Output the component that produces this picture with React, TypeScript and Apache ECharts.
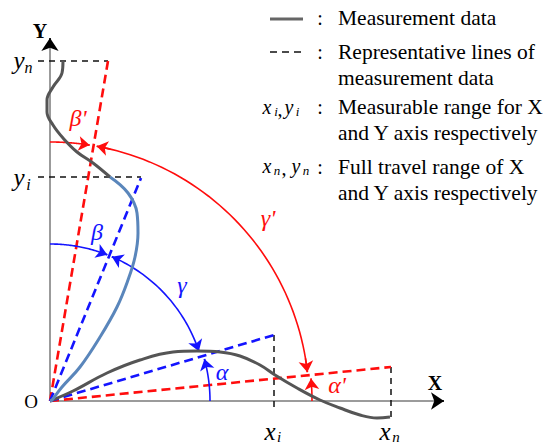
import React, { useEffect, useRef } from 'react';
import * as echarts from 'echarts';

// All coordinates are in diagram units relative to the origin O (1 unit = 1 px)
const X_RANGE = [-50, 498];
const Y_RANGE = [-45, 401];

// Measurement data along X
const xCurve: number[][] = [
  [0, 0], [23, 10], [57, 28], [90, 41], [123, 49], [147, 50], [170, 49], [190, 45],
  [210, 36], [225, 26], [247, 13], [270, 1], [290, -7], [310, -14], [327, -17], [340, -16],
];
// Measurement data along Y (upper gray part and lower blue part)
const yCurveUpper: number[][] = [
  [13, 340], [12, 328], [3, 314], [-3, 301], [-3, 289], [3, 276], [13, 263], [27, 249], [43, 238], [60, 224],
];
const yCurveLower: number[][] = [
  [60, 224], [78, 208], [87, 188], [88, 168], [85, 144], [78, 121], [67, 94], [50, 64], [30, 34], [12, 14], [2, 1], [0, 0],
];

// Representative lines
const redLines = [
  [[0, 0], [58, 340]],
  [[0, 0], [341, 34]],
];
const blueLines = [
  [[0, 0], [91, 223]],
  [[0, 0], [224, 66]],
];
// Range guide lines (x_i, x_n, y_i, y_n)
const guideLines = [
  [[-12, 340], [58, 340]],
  [[-12, 224], [91, 224]],
  [[224, 66], [224, -7]],
  [[341, 34], [341, -19]],
];
const axisXLine = [[0, 0], [394, 0]];
const axisYLine = [[0, 0], [0, 363]];

// Angle arcs: [radius, start angle deg, end angle deg]
const arcBeta = [157, 90, 68.6];
const arcGamma = [157, 66.8, 18.5];
const arcAlpha = [160, 0, 15.2];
const arcBetaP = [259, 90, 81.2];
const arcGammaP = [259, 79.6, 6.4];
const arcAlphaP = [262, 0, 4.9];

const legendRows = [
  { y: 18, lines: ['Measurement data'] },
  { y: 52, lines: ['Representative lines of', 'measurement data'] },
  { y: 107, lines: ['Measurable range for X', 'and Y axis respectively'] },
  { y: 167, lines: ['Full travel range of X', 'and Y axis respectively'] },
];

const SERIF = '"Liberation Serif", "Times New Roman", serif';
const BLUE = '#1414ff';
const RED = '#ff0d0d';
const GRAY = '#555555';
const STEEL = '#5a86bb';

function arc(a: number[]): number[][] {
  const [r, a0, a1] = a;
  const n = 48;
  const pts: number[][] = [];
  for (let i = 0; i <= n; i++) {
    const t = ((a0 + ((a1 - a0) * i) / n) * Math.PI) / 180;
    pts.push([r * Math.cos(t), r * Math.sin(t)]);
  }
  return pts;
}
// short segment at an arc end, pointing at the tip, used to carry the arrow head
function tipSeg(pts: number[][], atEnd: boolean): number[][] {
  return atEnd ? [pts[pts.length - 3], pts[pts.length - 1]] : [pts[2], pts[0]];
}

function txt(x: number, y: number, text: string, font: string, fill = '#000', align = 'center') {
  return {
    type: 'text',
    x,
    y,
    silent: true,
    style: {
      text,
      font,
      fill,
      align,
      verticalAlign: 'middle',
      textAlign: align,
      textVerticalAlign: 'middle',
    },
  };
}

export default function App() {
  const ref = useRef<HTMLDivElement>(null);
  useEffect(() => {
    if (!ref.current) return;
    const chart = echarts.init(ref.current, null, { renderer: 'svg' });

    const graphics: any[] = [];
    // legend samples
    graphics.push({
      type: 'line', silent: true,
      shape: { x1: 270, y1: 19, x2: 303, y2: 19 },
      style: { stroke: '#666', lineWidth: 3 },
    });
    graphics.push({
      type: 'line', silent: true,
      shape: { x1: 270, y1: 52, x2: 305, y2: 52 },
      style: { stroke: '#111', lineWidth: 1.6, lineDash: [7, 5] },
    });
    const it19 = `italic 20px ${SERIF}`;
    const it12 = `italic 13px ${SERIF}`;
    // x_i, y_i
    graphics.push(txt(267, 107, 'x', it19));
    graphics.push(txt(276, 111, 'i', it12));
    graphics.push(txt(280, 109, ',', `20px ${SERIF}`));
    graphics.push(txt(289, 107, 'y', it19));
    graphics.push(txt(297.5, 111, 'i', it12));
    // x_n, y_n
    graphics.push(txt(267, 166, 'x', it19));
    graphics.push(txt(277, 170, 'n', it12));
    graphics.push(txt(284, 168, ',', `20px ${SERIF}`));
    graphics.push(txt(296, 166, 'y', it19));
    graphics.push(txt(306, 170, 'n', it12));

    legendRows.forEach((row) => {
      graphics.push(txt(320, row.y, ':', `20px ${SERIF}`));
      row.lines.forEach((l, i) => {
        graphics.push(txt(338, row.y + i * 26, l, `21.5px ${SERIF}`, '#000', 'left'));
      });
    });

    // axis labels
    const it25 = `italic 25px ${SERIF}`;
    const it16 = `italic 16px ${SERIF}`;
    graphics.push(txt(19, 60, 'y', it25));
    graphics.push(txt(28.5, 67, 'n', it16));
    graphics.push(txt(19, 177, 'y', it25));
    graphics.push(txt(28.5, 184, 'i', it16));
    graphics.push(txt(270, 431, 'x', `italic 25px ${SERIF}`));
    graphics.push(txt(279, 437, 'i', `italic 15px ${SERIF}`));
    graphics.push(txt(385, 431, 'x', `italic 25px ${SERIF}`));
    graphics.push(txt(396, 437, 'n', `italic 15px ${SERIF}`));
    graphics.push(txt(31, 401, 'O', `19px ${SERIF}`));
    graphics.push(txt(435, 383, 'X', `bold 20px ${SERIF}`));
    graphics.push(txt(40, 31, 'Y', `bold 20px ${SERIF}`));

    // angle labels
    const g22 = `italic 24px ${SERIF}`;
    graphics.push(txt(78, 118, 'β\'', g22, RED));
    graphics.push(txt(97, 232, 'β', g22, BLUE));
    graphics.push(txt(182, 285, 'γ', g22, BLUE));
    graphics.push(txt(222, 372, 'α', g22, BLUE));
    graphics.push(txt(268, 218, 'γ\'', g22, RED));
    graphics.push(txt(337, 385, 'α\'', g22, RED));

    const linesSeries = (data: number[][][], color: string, width: number, type: any, poly = true, symbol: any = 'none', symbolSize: any = 10) => ({
      type: 'lines',
      coordinateSystem: 'cartesian2d',
      polyline: poly,
      silent: true,
      symbol,
      symbolSize,
      lineStyle: { color, width, type, opacity: 1, curveness: 0 },
      data: data.map((c) => ({ coords: c })),
    });

    const aB = arc(arcBeta), aG = arc(arcGamma), aA = arc(arcAlpha);
    const aBp = arc(arcBetaP), aGp = arc(arcGammaP), aAp = arc(arcAlphaP);
    const arrowSym = ['none', 'arrow'];
    const arrowSize = [7, 11];

    chart.setOption({
      animation: false,
      grid: { left: 0, right: 0, top: 0, bottom: 0, containLabel: false },
      xAxis: { type: 'value', min: X_RANGE[0], max: X_RANGE[1], show: false },
      yAxis: { type: 'value', min: Y_RANGE[0], max: Y_RANGE[1], show: false },
      series: [
        // axes
        linesSeries([axisXLine, axisYLine], '#7a7a7a', 1.5, 'solid'),
        linesSeries([[[386, 0], [394, 0]], [[0, 355], [0, 363]]], '#000', 1.5, 'solid', false, arrowSym, [10, 13]),
        // guide lines
        linesSeries(guideLines, '#111', 1.5, [6, 5]),
        // representative lines
        linesSeries(redLines, RED, 2.6, [9, 5]),
        linesSeries(blueLines, BLUE, 2.6, [9, 5]),
        // measurement curves
        {
          type: 'line', data: xCurve, smooth: 0.4, symbol: 'none', silent: true,
          lineStyle: { color: GRAY, width: 3 },
        },
        {
          type: 'line', data: yCurveLower, smooth: 0.4, symbol: 'none', silent: true,
          lineStyle: { color: STEEL, width: 3 },
        },
        {
          type: 'line', data: yCurveUpper, smooth: 0.4, symbol: 'none', silent: true,
          lineStyle: { color: GRAY, width: 3 },
        },
        // angle arcs
        linesSeries([aB, aA, aG], BLUE, 1.6, 'solid'),
        linesSeries([aBp, aAp, aGp], RED, 1.6, 'solid'),
        // arrow heads
        linesSeries([tipSeg(aB, true), tipSeg(aA, true), tipSeg(aG, true), tipSeg(aG, false)], BLUE, 1.6, 'solid', false, arrowSym, arrowSize),
        linesSeries([tipSeg(aBp, true), tipSeg(aAp, true), tipSeg(aGp, true), tipSeg(aGp, false)], RED, 1.6, 'solid', false, arrowSym, arrowSize),
      ],
      graphic: graphics,
    });
    return () => chart.dispose();
  }, []);
  return <div ref={ref} style={{ position: 'fixed', left: 0, top: 0, width: 548, height: 446, background: '#fff' }} />;
}
